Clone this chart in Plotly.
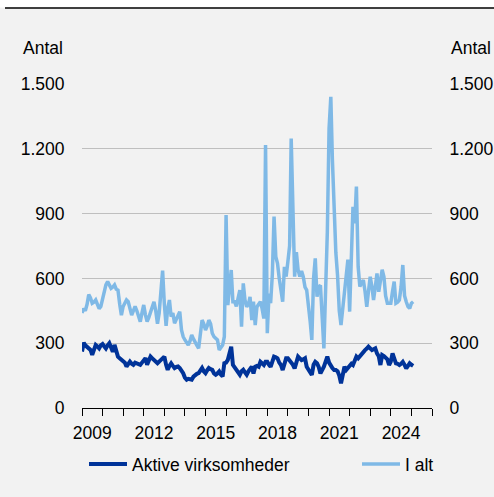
import pandas as pd
import plotly.graph_objects as go

months = pd.date_range("2009-01-01", periods=194, freq="MS")

i_alt = [
    440, 460, 450, 480, 525, 510, 485, 490, 500, 480, 460, 470,   # 2009
    500, 545, 570, 585, 570, 554, 560, 570, 550, 546, 480, 430,   # 2010
    470, 485, 500, 492, 460, 430, 450, 470, 450, 430, 400, 440,   # 2011
    477, 430, 400, 420, 446, 470, 492, 450, 390, 440, 520, 636,   # 2012
    480, 380, 460, 500, 423, 440, 392, 410, 430, 446, 361, 330,   # 2013
    315, 300, 292, 310, 338, 320, 300, 290, 276, 340, 407, 390,   # 2014
    361, 380, 407, 390, 346, 330, 320, 315, 269, 280, 292, 330,   # 2015
    893, 477, 560, 639, 492, 492, 470, 520, 546, 376, 577, 500,   # 2016
    469, 480, 515, 407, 492, 384, 468, 480, 492, 460, 415, 1218,  # 2017
    346, 530, 485, 620, 886, 700, 670, 600, 550, 492, 654, 608,   # 2018
    677, 750, 1248, 900, 608, 722, 640, 608, 634, 608, 560, 546,  # 2019
    480, 400, 315, 600, 693, 515, 560, 568, 420, 276, 550, 813,   # 2020
    1295, 1441, 1150, 900, 720, 612, 450, 384, 470, 540, 620, 687,  # 2021
    446, 700, 932, 855, 1025, 654, 562, 580, 592, 540, 469, 540,  # 2022
    608, 560, 500, 560, 623, 538, 600, 640, 608, 520, 485, 485,   # 2023
    485, 540, 585, 485, 490, 500, 560, 662, 520, 492, 470, 461,   # 2024
    485, 492,                                                     # 2025
]

aktive = [
    261, 302, 290, 284, 275, 269, 246, 270, 292, 285, 276, 290,   # 2009
    296, 285, 276, 290, 300, 280, 261, 292, 270, 238, 230, 223,   # 2010
    215, 210, 192, 205, 215, 205, 200, 210, 207, 205, 200, 210,   # 2011
    225, 231, 200, 220, 238, 230, 223, 215, 207, 215, 223, 230,   # 2012
    238, 200, 177, 195, 207, 195, 185, 190, 192, 185, 175, 161,   # 2013
    140, 131, 135, 131, 131, 145, 154, 158, 161, 175, 185, 170,   # 2014
    161, 175, 185, 180, 177, 160, 154, 160, 169, 155, 146, 207,   # 2015
    210, 223, 250, 284, 200, 190, 177, 165, 154, 170, 177, 165,   # 2016
    154, 170, 185, 192, 160, 191, 195, 191, 214, 205, 199, 214,   # 2017
    214, 200, 191, 215, 238, 235, 230, 210, 199, 176, 200, 230,   # 2018
    230, 220, 214, 200, 183, 215, 238, 230, 222, 225, 230, 191,   # 2019
    175, 165, 153, 200, 214, 207, 190, 160, 175, 191, 215, 238,   # 2020
    210, 191, 185, 176, 176, 170, 150, 114, 160, 191, 176, 185,   # 2021
    199, 205, 199, 215, 238, 230, 240, 253, 260, 268, 275, 284,   # 2022
    276, 268, 272, 276, 253, 240, 199, 245, 240, 230, 225, 199,   # 2023
    215, 253, 230, 207, 205, 199, 205, 214, 200, 183, 195, 207,   # 2024
    200, 195,                                                     # 2025
]

label_years = [2009, 2012, 2015, 2018, 2021, 2024]
y_ticks = [0, 300, 600, 900, 1200, 1500]
y_text = ["0", "300", "600", "900", "1.200", "1.500"]

DARK = "#003399"
LIGHT = "#7FB9E6"
BG = "#F2F2F2"
FONT = dict(family="Liberation Sans, Arial, sans-serif", size=17.5, color="black")

W, H = 494, 497
L, R, T, B = 82, 62, 84, 89
PW, PH = W - L - R, H - T - B


def px(xp):   # page x -> paper x
    return (xp - L) / PW


def py(yp):   # page y -> paper y
    return (H - B - yp) / PH


fig = go.Figure()
fig.add_trace(go.Scatter(x=months, y=aktive, mode="lines", name="Aktive virksomheder",
                         line=dict(color=DARK, width=4), legend="legend"))
fig.add_trace(go.Scatter(x=months, y=i_alt, mode="lines", name="I alt",
                         line=dict(color=LIGHT, width=3.5), legend="legend2"))
# dummy trace for right axis
fig.add_trace(go.Scatter(x=[months[0]], y=[None], yaxis="y2", showlegend=False,
                         hoverinfo="skip", mode="lines"))

common_leg = dict(orientation="h", xanchor="left", xref="container", yref="container",
                  y=(H - 464) / H, yanchor="middle",
                  itemwidth=38, bgcolor="rgba(0,0,0,0)", font=FONT)

fig.update_layout(
    width=W, height=H,
    margin=dict(l=L, r=R, t=T, b=B, autoexpand=False),
    paper_bgcolor=BG, plot_bgcolor=BG,
    font=FONT,
    showlegend=True,
    legend=dict(x=84 / W, **common_leg),
    legend2=dict(x=357 / W, **common_leg),
    xaxis=dict(
        type="date",
        range=["2009-01-01", "2026-01-01"],
        tickvals=[f"{y}-07-02" for y in label_years],
        ticktext=[str(y) for y in label_years],
        ticks="outside", ticklen=9, tickcolor="rgba(0,0,0,0)",
        showgrid=False, zeroline=False,
        showline=True, linecolor="black", linewidth=1,
        minor=dict(ticks="outside", ticklen=7, tickcolor="black", tickwidth=1,
                   dtick="M12", tick0="2009-01-01", showgrid=False),
        tickfont=FONT,
    ),
    yaxis=dict(
        range=[0, 1500], tickvals=y_ticks, ticktext=y_text,
        showgrid=True, gridcolor="#BFBFBF", gridwidth=1,
        zeroline=False, showline=False,
        ticks="outside", ticklen=13, tickcolor="rgba(0,0,0,0)", tickfont=FONT,
    ),
    yaxis2=dict(
        range=[0, 1500], tickvals=y_ticks, ticktext=y_text,
        overlaying="y", side="right", showgrid=False, zeroline=False,
        showline=False,
        ticks="outside", ticklen=13, tickcolor="rgba(0,0,0,0)", tickfont=FONT,
    ),
    annotations=[
        dict(text="Antal", xref="paper", yref="paper", x=px(21), y=py(48),
             xanchor="left", yanchor="middle", showarrow=False, font=FONT),
        dict(text="Antal", xref="paper", yref="paper", x=px(449), y=py(48),
             xanchor="left", yanchor="middle", showarrow=False, font=FONT),
    ],
    shapes=[
        dict(type="rect", xref="paper", yref="paper", x0=px(0), x1=px(W),
             y0=py(7.5), y1=py(0), fillcolor="white", line=dict(width=0), layer="above"),
        dict(type="line", xref="paper", yref="paper", x0=px(5), x1=px(W),
             y0=py(8), y1=py(8), line=dict(color="black", width=1.5), layer="above"),
    ],
)

fig.write_html(
    "out.html",
    config={"displayModeBar": False},
    post_script=(
        "document.body.style.margin='0';"
        "document.body.style.overflow='hidden';"
        "document.documentElement.style.overflow='hidden';"
    ),
)
